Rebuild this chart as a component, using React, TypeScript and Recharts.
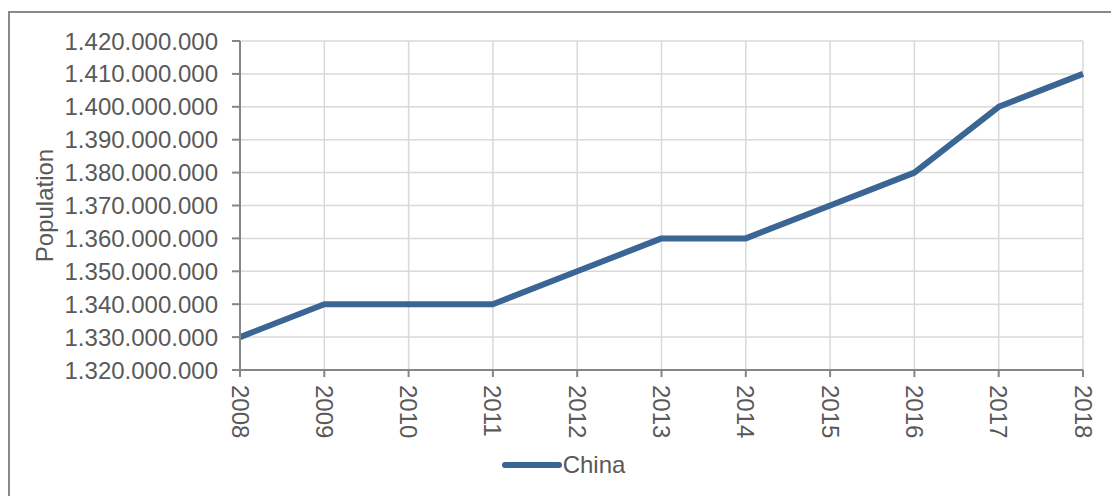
import { LineChart, Line, XAxis, YAxis, CartesianGrid, Legend, Label } from 'recharts'

const years = ['2008', '2009', '2010', '2011', '2012', '2013', '2014', '2015', '2016', '2017', '2018']
const china = [
  1330000000, 1340000000, 1340000000, 1340000000, 1350000000, 1360000000,
  1360000000, 1370000000, 1380000000, 1400000000, 1410000000,
]
const yTicks = [
  1320000000, 1330000000, 1340000000, 1350000000, 1360000000, 1370000000,
  1380000000, 1390000000, 1400000000, 1410000000, 1420000000,
]

const data = years.map((year, i) => ({ year, China: china[i] }))

const FONT = '"Liberation Sans", Arial, sans-serif'
const TEXT = '#595959'
const LINE = '#3A6595'
const SIZE = 24

const dotted = (v: number) => String(v).replace(/\B(?=(\d{3})+(?!\d))/g, '.')

const YearTick = (props: any) => {
  const { x, y, payload } = props
  return (
    <text
      x={x}
      y={y}
      transform={`rotate(90, ${x}, ${y})`}
      textAnchor='start'
      dominantBaseline='central'
      fill={TEXT}
      fontSize={SIZE}
      fontFamily={FONT}
    >
      {payload.value}
    </text>
  )
}

const LegendBox = () => (
  <div style={{ height: 30, display: 'flex', alignItems: 'center', justifyContent: 'center', paddingLeft: 34, fontFamily: FONT, fontSize: SIZE, color: TEXT }}>
    <svg width={60} height={10}>
      <line x1={3} y1={5} x2={57} y2={5} stroke={LINE} strokeWidth={6} strokeLinecap='round' />
    </svg>
    <span style={{ marginLeft: 1 }}>China</span>
  </div>
)

export default function App () {
  return (
    <div
      style={{
        position: 'absolute',
        left: 8,
        top: 11,
        width: 1110,
        height: 500,
        borderLeft: '2px solid #898989',
        borderTop: '2px solid #898989',
        background: '#fff',
      }}
    >
      <LineChart width={1100} height={486} data={data} margin={{ top: 28, right: 27, left: 0, bottom: 19 }}>
        <CartesianGrid stroke='#D9D9D9' strokeWidth={1.5} />
        <XAxis
          dataKey='year'
          stroke='#868686'
          strokeWidth={2}
          tickSize={7}
          tickMargin={8}
          height={80}
          interval={0}
          tick={<YearTick />}
        />
        <YAxis
          domain={[1320000000, 1420000000]}
          ticks={yTicks}
          tickFormatter={dotted}
          stroke='#868686'
          strokeWidth={2}
          width={230}
          tickSize={8}
          tickMargin={14}
          interval={0}
          tick={{ fill: TEXT, fontSize: SIZE, fontFamily: FONT }}
        >
          <Label
            value='Population'
            angle={-90}
            position='insideLeft'
            offset={34}
            fill={TEXT}
            fontSize={SIZE}
            fontFamily={FONT}
            style={{ textAnchor: 'middle' }}
          />
        </YAxis>
        <Legend verticalAlign='bottom' content={<LegendBox />} />
        <Line
          type='linear'
          dataKey='China'
          stroke={LINE}
          strokeWidth={6}
          strokeLinejoin='round'
          dot={false}
          isAnimationActive={false}
        />
      </LineChart>
    </div>
  )
}
